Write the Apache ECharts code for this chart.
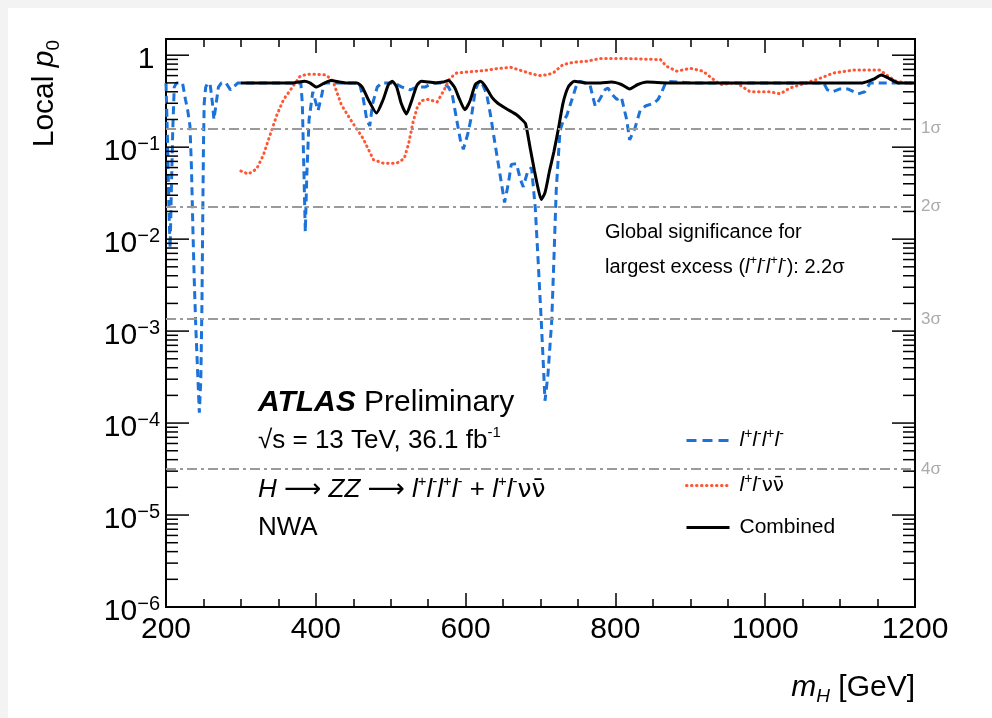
<!DOCTYPE html>
<html><head><meta charset="utf-8">
<script src="https://cdn.jsdelivr.net/npm/echarts@6/dist/echarts.min.js"></script>
<style>
html,body{margin:0;padding:0;background:#f3f3f3;}
#c{position:absolute;left:8px;top:8px;width:984px;height:710px;background:#fff;}
</style></head><body><div id="c"></div>
<script>
// ---- data (mass in GeV, local p0) ----
const xTickLabels = [200, 400, 600, 800, 1000, 1200];
const sigmaLabels = ['1σ', '2σ', '3σ', '4σ'];
const sigmaP = [0.1587, 0.02275, 0.00135, 3.167e-5];
const seriesNames = ['llll', 'llvv', 'Combined'];

const llllData = [
 [200,0.5],[202,0.12],[204,0.02],[205.5,0.008],[207,0.03],[209,0.15],[211,0.45],[214,0.5],[222,0.5],[226,0.33],
 [229,0.25],[232,0.17],[234,0.06],[236,0.012],[238,0.003],[240,0.001],[242,0.0004],[244.5,0.00013],[246.5,0.0003],[248,0.002],
 [249,0.015],[250,0.1],[251,0.3],[253,0.45],[256,0.5],[259,0.48],[262,0.3],[264,0.2],[267,0.3],[270,0.45],
 [274,0.5],[280,0.5],[286,0.42],[290,0.45],[296,0.5],[380,0.5],[382,0.3],[384,0.06],[386,0.012],[388,0.05],
 [391,0.2],[396,0.4],[403,0.25],[408,0.37],[411,0.5],[458,0.5],[463,0.35],[468,0.2],[472,0.17],[476,0.3],
 [482,0.45],[488,0.5],[505,0.5],[515,0.45],[526,0.42],[535,0.45],[546,0.45],[556,0.5],[570,0.5],[577,0.45],
 [582,0.38],[588,0.2],[593,0.12],[597,0.095],[603,0.14],[608,0.22],[613,0.42],[617,0.5],[621,0.52],[628,0.38],
 [633,0.23],[640,0.1],[646,0.05],[652,0.025],[657,0.04],[661,0.065],[668,0.066],[673,0.045],[677,0.037],[683,0.055],
 [688,0.06],[693,0.022],[697,0.0055],[701,0.0013],[704,0.0004],[706,0.000175],[710,0.00034],[715,0.0013],[718,0.0064],[721,0.034],
 [726,0.15],[730,0.19],[735,0.22],[743,0.35],[749,0.5],[753,0.52],[766,0.48],[770,0.35],[773,0.28],[779,0.33],
 [786,0.42],[790,0.44],[795,0.38],[802,0.33],[808,0.35],[815,0.2],[819,0.12],[826,0.16],[833,0.25],[840,0.28],
 [851,0.3],[857,0.33],[862,0.4],[867,0.5],[870,0.52],[900,0.5],[1078,0.5],[1083,0.42],[1090,0.4],[1100,0.43],
 [1110,0.43],[1124,0.38],[1133,0.4],[1140,0.5],[1200,0.5]
];

const llvvData = [
 [300,0.055],[310,0.051],[321,0.058],[330,0.082],[339,0.136],[348,0.224],[357,0.33],[368,0.44],[379,0.59],[388,0.62],
 [400,0.62],[414,0.61],[423,0.52],[434,0.29],[448,0.19],[463,0.125],[477,0.073],[490,0.067],[508,0.067],[518,0.075],
 [524,0.11],[530,0.19],[536,0.28],[541,0.32],[550,0.33],[562,0.31],[570,0.4],[579,0.56],[588,0.64],[605,0.66],
 [624,0.68],[640,0.71],[660,0.74],[677,0.67],[690,0.62],[699,0.6],[708,0.61],[717,0.64],[730,0.79],[745,0.84],
 [762,0.86],[779,0.92],[815,0.92],[851,0.9],[860,0.9],[868,0.76],[882,0.67],[900,0.72],[917,0.67],[929,0.56],
 [940,0.48],[962,0.5],[980,0.4],[1006,0.4],[1020,0.38],[1033,0.44],[1055,0.5],[1073,0.56],[1091,0.64],[1118,0.69],
 [1153,0.69],[1162,0.61],[1175,0.52],[1189,0.5],[1200,0.5]
];

const combinedData = [
 [300,0.5],[340,0.5],[370,0.5],[385,0.52],[392,0.5],[401,0.45],[410,0.49],[420,0.53],[440,0.5],[455,0.5],
 [462,0.45],[470,0.33],[481,0.235],[490,0.33],[497,0.48],[502,0.52],[508,0.45],[514,0.3],[521,0.23],[528,0.32],
 [535,0.47],[541,0.52],[560,0.5],[570,0.51],[577,0.53],[585,0.45],[592,0.33],[599,0.255],[606,0.32],[613,0.48],
 [620,0.52],[627,0.45],[635,0.35],[643,0.3],[655,0.26],[668,0.225],[675,0.2],[680,0.18],[686,0.1],[692,0.055],
 [697,0.035],[701,0.027],[706,0.032],[712,0.055],[718,0.09],[724,0.16],[730,0.3],[737,0.45],[745,0.52],[760,0.5],
 [780,0.5],[795,0.51],[808,0.48],[819,0.43],[830,0.48],[842,0.51],[870,0.5],[950,0.5],[1050,0.5],[1130,0.5],
 [1145,0.55],[1155,0.61],[1165,0.56],[1178,0.5],[1200,0.5]
];

// ---- helpers ----
const FONT = '"Liberation Sans", Arial, Helvetica, sans-serif';
const DJ = '"DejaVu Sans", "Liberation Sans", sans-serif';
const yTickValues = [];
for (let e = -6; e <= 0; e++) {
  for (let k = 1; k <= 9; k++) {
    const v = k * Math.pow(10, e);
    if (v > 1.5) break;
    yTickValues.push([200, v, k === 1 ? 1 : 0]);
  }
}

const supRich = (base, sup) => ({
  b: { fontSize: base, lineHeight: base + 6, fontFamily: FONT, color: '#000' },
  i: { fontSize: base, lineHeight: base + 6, fontFamily: FONT, fontStyle: 'italic', color: '#000' },
  bi: { fontSize: base, lineHeight: base + 6, fontFamily: FONT, fontStyle: 'italic', fontWeight: 'bold', color: '#000' },
  nu: { fontSize: base - 1, lineHeight: base + 6, fontFamily: DJ, color: '#000' },
  ar: { fontSize: base, lineHeight: base + 6, fontFamily: DJ, color: '#000' },
  s: { fontSize: sup, lineHeight: sup - 2, fontFamily: FONT, verticalAlign: 'top', color: '#000' },
  si: { fontSize: sup, lineHeight: sup - 2, fontFamily: FONT, fontStyle: 'italic', verticalAlign: 'top', color: '#000' },
  sub: { fontSize: sup, lineHeight: sup - 4, fontFamily: FONT, verticalAlign: 'bottom', color: '#000' },
  subi: { fontSize: sup, lineHeight: sup - 4, fontFamily: FONT, fontStyle: 'italic', verticalAlign: 'bottom', color: '#000' }
});

const legendText = {
  llll: '{i|l}{s|+}{i|l}{s|-}{i|l}{s|+}{i|l}{s|-}',
  llvv: '{i|l}{s|+}{i|l}{s|-}{nu|νν\u0304}',
  Combined: '{b|Combined}'
};

const chart = echarts.init(document.getElementById('c'), null, { renderer: 'canvas' });

const xAxisCommon = {
  type: 'value', min: 200, max: 1200, interval: 200,
  axisLine: { show: true, onZero: false, lineStyle: { color: '#000', width: 2 } },
  axisTick: { show: true, inside: true, length: 14, lineStyle: { color: '#000', width: 1.5 } },
  minorTick: { show: true, splitNumber: 4, length: 8, lineStyle: { color: '#000', width: 1.5 } },
  splitLine: { show: false }
};

chart.setOption({
  animation: false,
  backgroundColor: '#fff',
  grid: { left: 158, right: 77, top: 31, bottom: 111, show: true, borderColor: '#000', borderWidth: 2, backgroundColor: 'transparent' },
  xAxis: [
    Object.assign({}, xAxisCommon, {
      position: 'bottom',
      axisLabel: { show: true, margin: 8, fontSize: 30, fontFamily: FONT, color: '#000',
        formatter: v => (xTickLabels.indexOf(v) >= 0 ? String(v) : '') }
    }),
    Object.assign({}, xAxisCommon, { position: 'top', axisLabel: { show: false } })
  ],
  yAxis: {
    type: 'log', min: 1e-6, max: 1.5, logBase: 10,
    axisLine: { show: true, lineStyle: { color: '#000', width: 2 } },
    axisTick: { show: false }, minorTick: { show: false }, splitLine: { show: false },
    axisLabel: {
      margin: 6,
      padding: [10, 0, 0, 0],
      formatter: v => {
        const l = Math.log10(v), n = Math.round(l);
        if (Math.abs(l - n) > 0.01) return '';
        if (n === 0) return '{b|1}{s| }';
        return '{b|10}{s|\u2212' + (-n) + '}';
      },
      rich: supRich(30, 20)
    }
  },
  legend: {
    data: [
      { name: 'llll', lineStyle: { type: [10, 6] } },
      { name: 'llvv' },
      { name: 'Combined' }
    ],
    orient: 'vertical', left: 677, top: 419, padding: 0,
    itemWidth: 43, itemHeight: 16, itemGap: 21,
    itemStyle: { opacity: 0 },
    lineStyle: { width: 3 },
    formatter: name => legendText[name],
    textStyle: { padding: [0, 0, 0, 5], rich: supRich(21, 14) },
    selectedMode: false
  },
  graphic: [
    { type: 'text', x: 250, y: 395, silent: true,
      style: { text: '{bi|ATLAS}{b| Preliminary}', rich: supRich(30, 18), verticalAlign: 'middle', align: 'left' } },
    { type: 'text', x: 250, y: 433, silent: true,
      style: { text: '{b|√s = 13 TeV, 36.1 fb}{s|-1}', rich: supRich(26, 15), verticalAlign: 'middle', align: 'left' } },
    { type: 'text', x: 250, y: 482, silent: true,
      style: { text: '{i|H}{b| }{ar|⟶}{b| }{i|ZZ}{b| }{ar|⟶}{b| }{i|l}{s|+}{i|l}{s|-}{i|l}{s|+}{i|l}{s|-}{b| + }{i|l}{s|+}{i|l}{s|-}{nu|νν\u0304}',
        rich: supRich(26, 15), verticalAlign: 'middle', align: 'left' } },
    { type: 'text', x: 250, y: 520, silent: true,
      style: { text: '{b|NWA}', rich: supRich(26, 15), verticalAlign: 'middle', align: 'left' } },
    { type: 'text', x: 597, y: 224, silent: true,
      style: { text: '{b|Global significance for}', rich: supRich(20, 13), verticalAlign: 'middle', align: 'left' } },
    { type: 'text', x: 597, y: 259, silent: true,
      style: { text: '{b|largest excess (}{i|l}{s|+}{i|l}{s|-}{i|l}{s|+}{i|l}{s|-}{b|): 2.2σ}', rich: supRich(20, 13), verticalAlign: 'middle', align: 'left' } },
    { type: 'text', x: 907, y: 680, silent: true,
      style: { text: '{i|m}{subi|H}{b| [GeV]}', rich: supRich(30, 19), verticalAlign: 'middle', align: 'right' } },
    { type: 'text', x: 37, y: 32, rotation: Math.PI / 2, silent: true,
      style: { text: '{b|Local }{i|p}{sub|0}', rich: supRich(30, 19), verticalAlign: 'middle', align: 'right' } }
  ],
  series: [
    {
      name: 'sigma', type: 'line', data: [], silent: true, z: 1,
      markLine: {
        silent: true, symbol: ['none', 'none'], animation: false, precision: 12,
        lineStyle: { color: '#9a9a9a', width: 2, type: [10, 4, 3, 4] },
        label: { show: true, position: 'end', distance: 6, color: '#aaaaaa', fontSize: 17, fontFamily: FONT },
        data: sigmaP.map((p, i) => ({ yAxis: p, label: { formatter: sigmaLabels[i] } }))
      }
    },
    {
      name: 'llll', type: 'line', data: llllData, showSymbol: false, symbol: 'none', z: 3,
      lineStyle: { color: '#1c72d8', width: 3, type: [8, 5] }, itemStyle: { color: '#1c72d8' }
    },
    {
      name: 'llvv', type: 'line', data: llvvData, showSymbol: false, symbol: 'none', z: 3,
      lineStyle: { color: '#ff5533', width: 3, type: [0.5, 4.5], cap: 'round' }, itemStyle: { color: '#ff5533' }
    },
    {
      name: 'Combined', type: 'line', data: combinedData, showSymbol: false, symbol: 'none', z: 4, smooth: 0.2,
      lineStyle: { color: '#000', width: 3 }, itemStyle: { color: '#000' }
    },
    {
      name: 'yTicks', type: 'custom', data: yTickValues, silent: true, z: 5, clip: false,
      encode: { x: 0, y: 1 },
      renderItem: (params, api) => {
        const cs = params.coordSys;
        const p = api.coord([api.value(0), api.value(1)]);
        const len = api.value(2) ? 23 : 12;
        const st = { stroke: '#000', lineWidth: 1.5 };
        return { type: 'group', children: [
          { type: 'line', shape: { x1: cs.x, y1: p[1], x2: cs.x + len, y2: p[1] }, style: st },
          { type: 'line', shape: { x1: cs.x + cs.width, y1: p[1], x2: cs.x + cs.width - len, y2: p[1] }, style: st }
        ] };
      }
    }
  ]
});
</script></body></html>
